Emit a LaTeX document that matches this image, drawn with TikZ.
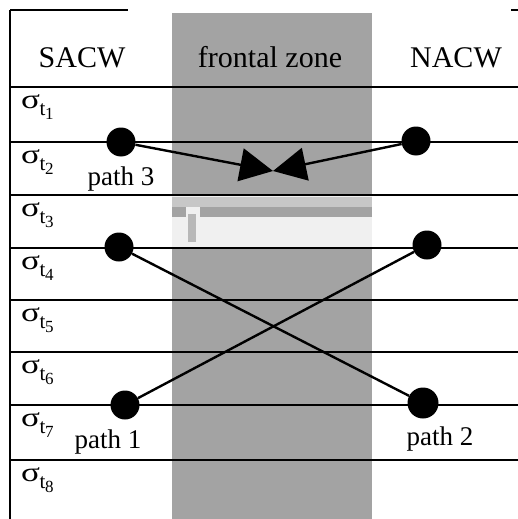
\documentclass[tikz,border=0pt]{standalone}
\usepackage{fontspec}
\setmainfont{Liberation Serif}
\usetikzlibrary{arrows.meta}
\newcommand{\mysig}[1]{{\fontsize{27}{27}\selectfont\scalebox{1.3}[1]{σ}}\kern-0.5pt\raisebox{-7pt}{\fontsize{21}{21}\selectfont t\kern-0.3pt\raisebox{-4pt}{\fontsize{17}{17}\selectfont #1}}}
\tikzset{
  head/.style={anchor=base, inner sep=0pt, font=\fontsize{30}{30}\selectfont},
  pathlbl/.style={anchor=base, inner sep=0pt, font=\fontsize{27}{27}\selectfont},
  siglbl/.style={anchor=base west, inner sep=0pt},
  level/.style={line width=1.2pt, black},
  dot/.style={circle, fill=black, minimum size=29pt, inner sep=0pt},
  route/.style={line width=2.4pt, black},
  arr/.style={route, -{Triangle[length=33pt, width=33pt]}}
}
\begin{document}
\begin{tikzpicture}[x=1pt, y=-1pt]
\useasboundingbox (0,0) rectangle (518,519);
% frontal zone band
\fill[black!36] (172,13) rectangle (372,519);
% faded patch below sigma_t3 line
\fill[black!6] (172,196) rectangle (372,247);
\fill[black!22] (172,197) rectangle (372,207);
\fill[black!36] (172,207) rectangle (186,217);
\fill[black!36] (200,207) rectangle (372,217);
\fill[black!28] (188,214) rectangle (196,242);
% frame
\draw[line width=1.6pt] (10,10) -- (10,519);
\draw[line width=1.6pt] (10,10) -- (128,10);
\draw[line width=1.6pt] (511,10) -- (518,10);
% levels
\foreach \yy in {87,142,195,248,300,352,405,460}
  \draw[level] (10,\yy) -- (518,\yy);
% headings
\node[head] (sacw) at (82,67) {SACW};
\node[head] (fz) at (270,67) {frontal zone};
\node[head] (nacw) at (456,67) {NACW};
% sigma labels
\node[siglbl] (s1) at (21,108) {\mysig{1}};
\node[siglbl] (s2) at (21,163) {\mysig{2}};
\node[siglbl] (s3) at (21,216) {\mysig{3}};
\node[siglbl] (s4) at (21,269) {\mysig{4}};
\node[siglbl] (s5) at (21,321) {\mysig{5}};
\node[siglbl] (s6) at (21,373) {\mysig{6}};
\node[siglbl] (s7) at (21,426) {\mysig{7}};
\node[siglbl] (s8) at (21,481) {\mysig{8}};
% dots
\node[dot] (p3l) at (121,142) {};
\node[dot] (p3r) at (416,141) {};
\node[dot] (p2a) at (119,247) {};
\node[dot] (p1b) at (427,245) {};
\node[dot] (p1a) at (125,405) {};
\node[dot, minimum size=31pt] (p2b) at (423,403) {};
\coordinate (meet) at (273,171);
% paths
\draw[route] (p1a) -- (p1b);
\draw[route] (p2a) -- (p2b);
\draw[arr] (p3l) -- (meet);
\draw[arr] (p3r) -- (meet);
% path labels
\node[pathlbl] (l3) at (121,185) {path 3};
\node[pathlbl] (l1) at (108,448) {path 1};
\node[pathlbl] (l2) at (440,445) {path 2};
\end{tikzpicture}
\end{document}
